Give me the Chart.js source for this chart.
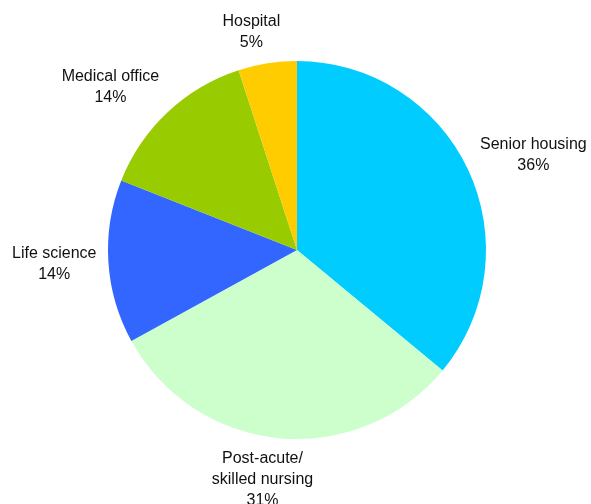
<!DOCTYPE html>
<html>
<head>
<meta charset="utf-8">
<script src="https://cdn.jsdelivr.net/npm/chart.js@4/dist/chart.umd.min.js"></script>
<style>
  html, body { margin: 0; padding: 0; background: #fff; }
  #wrap { width: 591px; height: 504px; }
</style>
</head>
<body>
<div id="wrap"><canvas id="myChart" width="591" height="504"></canvas></div>
<script>
// portfolio mix by property type
const labels = [
    ['Senior housing'],
    ['Post-acute/', 'skilled nursing'],
    ['Life science'],
    ['Medical office'],
    ['Hospital']
];
const shares = [36, 31, 14, 14, 5];
const colors = ['#00CCFF', '#CCFFCC', '#3366FF', '#99CC00', '#FFCC00'];

// small nudges for each label box, relative to its slice
const labelNudge = [[8, -1], [-11, 0], [-2, 0], [-17, -3], [-10, -1]];

const outsideLabels = {
    id: 'outsideLabels',
    afterDatasetsDraw(chart) {
        const ctx = chart.ctx;
        const meta = chart.getDatasetMeta(0);
        const lineH = 21;
        ctx.save();
        ctx.font = '16px "Liberation Sans", Arial, sans-serif';
        ctx.fillStyle = '#111';
        ctx.textAlign = 'center';
        ctx.textBaseline = 'middle';
        meta.data.forEach((arc, i) => {
            const lines = labels[i].concat([shares[i] + '%']);
            const mid = (arc.startAngle + arc.endAngle) / 2;
            const dx = Math.cos(mid), dy = Math.sin(mid);
            const r = arc.outerRadius + 10;
            let w = 0;
            lines.forEach(l => { w = Math.max(w, ctx.measureText(l).width); });
            const h = lines.length * lineH;
            const cx = arc.x + dx * r + dx * w / 2 + labelNudge[i][0];
            const cy = arc.y + dy * r + dy * h / 2 + labelNudge[i][1];
            lines.forEach((l, k) => {
                ctx.fillText(l, cx, cy - h / 2 + lineH / 2 + k * lineH);
            });
        });
        ctx.restore();
    }
};

const config = {
    type: 'pie',
    data: {
        labels: labels.map(l => l.join(' ')),
        datasets: [{
            data: shares,
            backgroundColor: colors,
            borderWidth: 0
        }]
    },
    options: {
        responsive: false,
        animation: false,
        layout: { padding: { top: 61, bottom: 65, left: 105, right: 102 } },
        plugins: {
            legend: { display: false },
            tooltip: { enabled: false }
        }
    },
    plugins: [outsideLabels]
};

var myChart = new Chart(document.getElementById('myChart'), config);
</script>
</body>
</html>
